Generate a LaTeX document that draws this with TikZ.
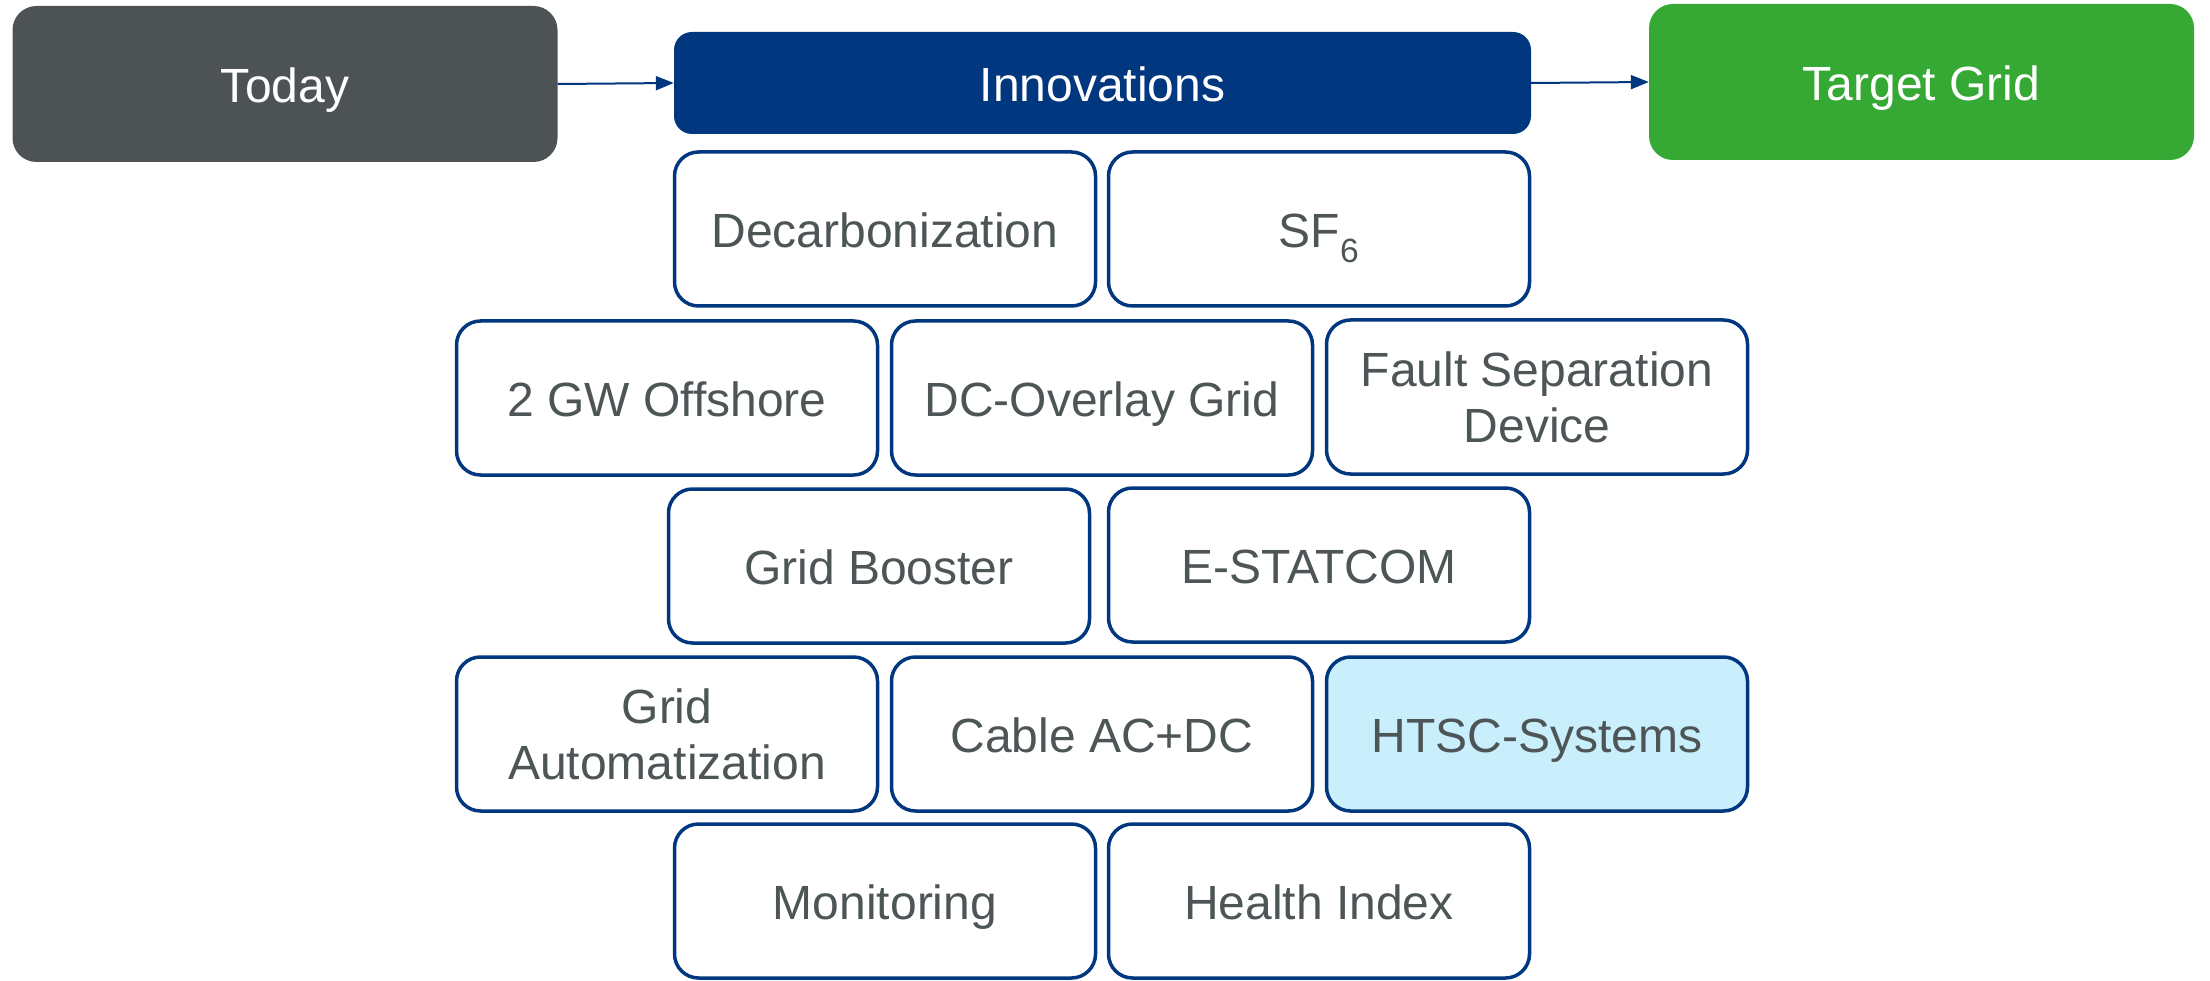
\documentclass[tikz,border=0pt]{standalone}
\usepackage{fontspec}
\setmainfont{Liberation Sans}
\usetikzlibrary{arrows.meta}
\definecolor{navy}{HTML}{00377F}
\definecolor{darkgrey}{HTML}{4D5355}
\definecolor{txtgrey}{HTML}{4D5557}
\definecolor{green}{HTML}{36A935}
\definecolor{lightblue}{HTML}{C9EEFC}
\tikzset{
  big/.style={rounded corners=24pt, minimum width=545pt, minimum height=156pt, text=white, font=\fontsize{48}{56}\selectfont, inner sep=0pt, text height=37pt, text depth=0pt},
  item/.style={draw=navy, line width=3.5pt, rounded corners=24pt, fill=white, minimum width=421pt, minimum height=154pt, text=txtgrey, font=\fontsize{48}{56}\selectfont, align=center, inner sep=0pt},
  single/.style={text height=37pt, text depth=0pt},
  conn/.style={draw=navy, line width=2pt, -{Triangle[length=18pt,width=14pt]}}
}
\begin{document}
\begin{tikzpicture}[x=1pt,y=-1pt]
\useasboundingbox (0,0) rectangle (2210,981);
\node[big, fill=darkgrey] (today) at (285,84) {Today};
\node[big, fill=navy, minimum width=857pt, minimum height=102pt, rounded corners=18pt] (innov) at (1102.5,83) {Innovations};
\node[big, fill=green] (target) at (1921.5,82) {Target Grid};
\draw[conn] (today.east) -- (innov.west);
\draw[conn] (innov.east) -- (target.west);
% row 1
\node[item, single] (decarb) at (885,229) {Decarbonization};
\node[item, single] (sf6) at (1319,229) {SF\textsubscript{6}};
% row 2
\node[item, single] (gw) at (667,398) {2 GW Offshore};
\node[item, single] (dcog) at (1102,398) {DC-Overlay Grid};
\node[item] (fsd) at (1537,397) {Fault Separation\\Device};
% row 3
\node[item, single] (booster) at (879,566) {Grid Booster};
\node[item, single] (estat) at (1319,565) {E-STATCOM};
% row 4
\node[item] (auto) at (667,734) {Grid\\Automatization};
\node[item, single] (cable) at (1102,734) {Cable AC+DC};
\node[item, single, fill=lightblue] (htsc) at (1537,734) {HTSC-Systems};
% row 5
\node[item, single] (mon) at (885,901) {Monitoring};
\node[item, single] (health) at (1319,901) {Health Index};
\end{tikzpicture}
\end{document}
